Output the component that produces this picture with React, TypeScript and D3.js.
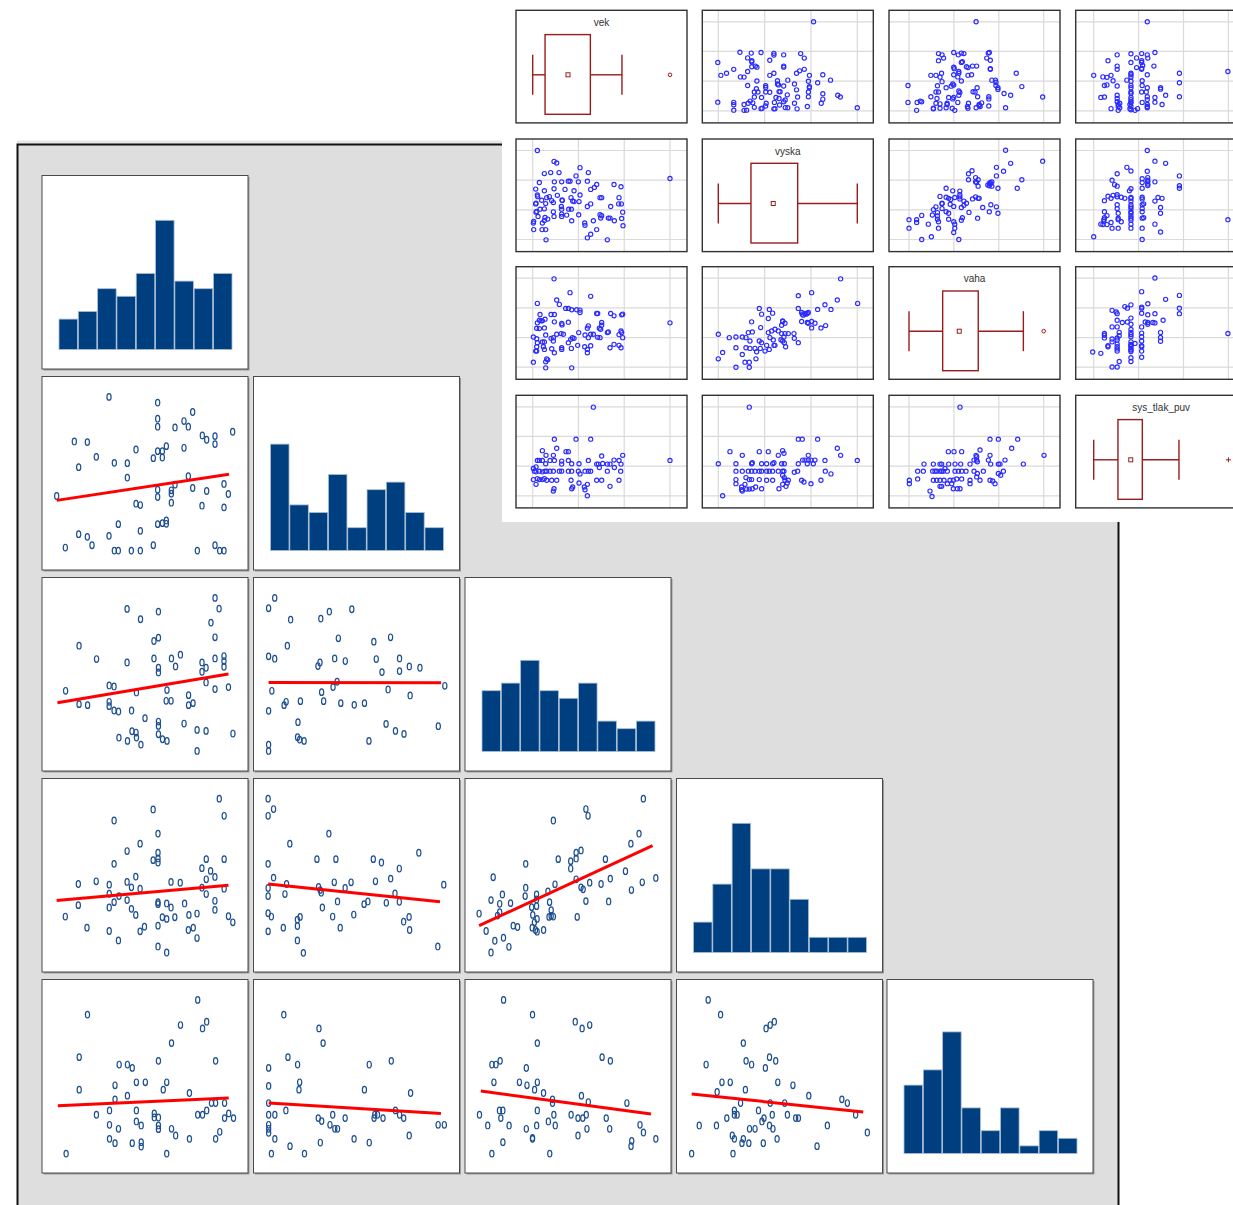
import React from "react";
import * as d3 from "d3";

const W = 1233;
const H = 1205;

// ================= lower-left matrix (5 variables) =================
// histogram counts on the diagonal
const hist1 = [4, 5, 8, 7, 10, 17, 9, 8, 10];
const hist2 = [14, 6, 5, 10, 3, 8, 9, 5, 3];
const hist3 = [8, 9, 12, 8, 7, 9, 4, 3, 4];
const hist4 = [4, 9, 17, 11, 11, 7, 2, 2, 2];
const hist5 = [9, 11, 16, 6, 3, 6, 1, 3, 2];
const histCounts = [hist1, hist2, hist3, hist4, hist5];

// scatter panels: values in each panel's own units, with the panel extent
type P = [number, number];
const p21: P[] = [[209,81],[355,98],[460,126],[355,146],[434,153],[355,170],[447,170],[407,172],[580,185],[489,196],[527,198],[502,209],[527,222],[105,214],[144,216],[290,238],[434,233],[381,228],[355,243],[369,243],[171,260],[342,264],[369,262],[225,278],[264,279],[118,291],[264,322],[447,318],[52,377],[355,358],[355,380],[396,360],[396,370],[407,343],[460,353],[502,362],[554,341],[567,371],[290,400],[303,404],[396,397],[488,406],[554,411],[237,461],[355,461],[369,458],[381,450],[381,460],[303,481],[118,491],[144,499],[158,524],[209,496],[78,531],[225,540],[237,540],[276,540],[303,540],[342,524],[474,540],[527,524],[541,540],[554,540]];
const p31: P[] = [[430,69],[440,101],[214,102],[291,110],[247,133],[420,143],[430,187],[291,188],[280,198],[96,212],[139,252],[214,262],[280,250],[323,250],[333,274],[345,239],[291,278],[291,292],[398,262],[408,278],[398,290],[430,250],[452,243],[452,258],[452,275],[408,322],[430,342],[463,336],[63,347],[170,331],[182,334],[237,352],[312,345],[96,387],[117,390],[170,380],[170,393],[182,406],[193,409],[225,406],[310,377],[322,377],[365,360],[365,390],[376,384],[258,429],[291,439],[291,452],[354,445],[386,464],[408,467],[474,475],[226,468],[236,472],[237,487],[215,497],[194,487],[248,508],[291,477],[301,492],[312,497],[386,527]];
const p32: P[] = [[575,69],[560,100],[614,134],[688,131],[709,110],[764,103],[606,212],[731,190],[818,200],[859,187],[560,244],[575,251],[686,262],[681,273],[722,250],[748,258],[824,252],[881,250],[838,291],[881,288],[905,274],[931,278],[728,320],[718,336],[992,332],[568,347],[690,351],[853,343],[907,361],[603,380],[598,390],[638,378],[695,378],[737,384],[770,389],[795,384],[560,407],[632,441],[631,486],[636,493],[647,497],[560,508],[560,527],[806,497],[848,446],[871,467],[892,476],[976,453]];
const p41: P[] = [[332,72],[341,123],[210,104],[138,137],[219,176],[186,206],[162,228],[219,233],[219,250],[210,255],[219,262],[138,266],[308,252],[341,252],[300,279],[316,287],[324,305],[308,312],[72,326],[105,318],[129,328],[162,320],[178,304],[170,336],[186,340],[243,320],[260,322],[129,355],[138,380],[147,362],[162,374],[72,389],[219,380],[219,386],[235,384],[243,396],[268,384],[300,337],[308,356],[341,340],[324,376],[324,403],[129,396],[170,400],[178,418],[48,423],[227,425],[235,430],[250,425],[276,418],[291,414],[349,422],[357,440],[219,450],[88,456],[129,466],[186,467],[194,453],[146,494],[275,463],[284,456],[291,487],[219,512],[235,530]];
const p42: P[] = [[422,72],[432,103],[422,123],[534,176],[462,206],[422,266],[512,252],[547,252],[616,252],[631,262],[700,233],[664,280],[432,307],[456,326],[422,338],[422,362],[453,356],[515,335],[518,344],[520,352],[544,321],[564,338],[575,321],[620,318],[648,310],[746,328],[550,378],[522,396],[606,378],[599,386],[640,382],[664,379],[656,354],[422,413],[428,423],[481,424],[476,432],[541,423],[580,417],[450,456],[476,451],[555,456],[422,467],[476,494],[487,531],[672,438],[682,424],[683,463],[735,512]];
const p43: P[] = [[1114,72],[1008,103],[1012,123],[948,137],[1106,176],[1091,206],[897,266],[957,252],[980,258],[980,280],[990,250],[990,233],[999,226],[1044,252],[1081,288],[837,306],[1137,308],[1112,321],[1053,310],[1036,326],[1015,322],[999,336],[1003,342],[1008,377],[1050,378],[1092,344],[990,312],[951,327],[897,337],[896,362],[938,348],[917,357],[917,372],[917,392],[941,380],[869,383],[854,357],[849,385],[849,410],[833,374],[811,414],[845,420],[874,450],[882,454],[908,395],[910,418],[918,430],[913,440],[944,404],[944,421],[940,424],[948,423],[909,456],[915,463],[930,463],[918,468],[992,424],[824,466],[856,486],[840,495],[866,513],[833,530]];
const p51: P[] = [[229,75],[69,119],[204,150],[236,160],[242,140],[191,204],[57,246],[115,268],[127,268],[134,278],[172,257],[255,257],[57,343],[109,330],[140,321],[153,321],[184,321],[179,343],[127,361],[217,353],[109,372],[249,383],[255,383],[268,383],[82,418],[101,405],[140,405],[166,414],[166,426],[172,426],[229,418],[236,418],[242,405],[274,414],[268,428],[281,428],[101,448],[114,460],[140,438],[147,450],[172,450],[172,461],[191,460],[197,480],[217,490],[101,490],[109,503],[134,503],[147,500],[147,513],[255,490],[261,469],[38,534],[184,534]];
const p52: P[] = [[354,119],[405,160],[411,204],[360,246],[332,278],[374,268],[478,268],[510,257],[332,332],[377,321],[376,343],[471,343],[538,353],[332,383],[357,405],[332,418],[341,418],[425,418],[404,428],[409,437],[443,428],[421,448],[428,460],[432,460],[486,418],[485,428],[490,418],[498,428],[516,405],[522,418],[528,428],[332,448],[332,460],[332,472],[341,490],[363,512],[384,534],[336,534],[407,501],[456,490],[478,501],[536,480],[578,448],[587,448]];
const p53: P[] = [[673,75],[715,119],[777,140],[787,160],[798,150],[722,204],[816,246],[828,257],[656,268],[662,268],[668,257],[706,278],[659,321],[696,321],[707,330],[718,343],[722,321],[731,353],[744,372],[744,383],[786,361],[796,380],[852,383],[638,418],[667,405],[672,405],[669,428],[650,450],[681,450],[722,405],[706,460],[715,487],[715,490],[721,450],[738,438],[748,450],[746,418],[771,418],[781,428],[788,428],[793,418],[794,460],[781,480],[672,500],[656,534],[740,534],[822,428],[827,460],[859,496],[858,512],[871,448],[876,471],[894,490]];
const p54: P[] = [[970,75],[988,119],[1054,160],[1060,150],[1066,140],[1021,204],[1059,246],[1068,257],[1025,257],[1033,268],[1053,278],[967,268],[990,321],[1002,321],[1071,321],[1093,330],[1116,361],[983,350],[1024,343],[1017,383],[1008,405],[1012,418],[1008,418],[1043,405],[1060,383],[1081,383],[1051,428],[1048,438],[1063,418],[1085,418],[1097,428],[1101,428],[1164,372],[1172,383],[1184,418],[997,428],[957,450],[982,450],[1030,460],[1038,460],[1059,450],[1064,460],[1005,480],[1008,490],[1021,490],[1029,503],[1019,503],[1050,503],[1070,490],[1128,512],[1143,450],[1201,471],[946,534],[1006,534]];

// fitted regression lines: [x1, y1, x2, y2] in panel units
const fit21 = [52, 390, 569, 312];
const fit31 = [43, 383, 463, 297];
const fit32 = [560, 322, 983, 323];
const fit41 = [32, 375, 349, 330];
const fit42 = [422, 326, 739, 379];
const fit43 = [811, 450, 1131, 212];
const fit51 = [26, 391, 274, 368];
const fit52 = [332, 383, 582, 414];
const fit53 = [640, 347, 887, 416];
const fit54 = [946, 356, 1195, 410];

// panel extents [x0, x1, y0, y1] (panel units at the cell edges)
const panels = [
  { r: 1, c: 0, pts: p21, fit: fit21, ext: [8, 626, 20, 598] },
  { r: 2, c: 0, pts: p31, fit: fit31, ext: [5, 511, 8, 587] },
  { r: 2, c: 1, pts: p32, fit: fit32, ext: [523, 1028, 8, 587] },
  { r: 3, c: 0, pts: p41, fit: fit41, ext: [5, 385, 12, 588] },
  { r: 3, c: 1, pts: p42, fit: fit42, ext: [395, 775, 12, 588] },
  { r: 3, c: 2, pts: p43, fit: fit43, ext: [785, 1165, 12, 588] },
  { r: 4, c: 0, pts: p51, fit: fit51, ext: [3, 302, 14, 592] },
  { r: 4, c: 1, pts: p52, fit: fit52, ext: [310, 609, 14, 592] },
  { r: 4, c: 2, pts: p53, fit: fit53, ext: [617, 916, 14, 592] },
  { r: 4, c: 3, pts: p54, fit: fit54, ext: [924, 1223, 14, 592] },
];

// ================= upper-right matrix (4 variables) =================
const varNames = ["vek", "vyska", "vaha", "sys_tlak_puv"];
// variable extents in reading units [min, max]
const extVek = [98, 510];
const extVyskaX = [655, 1072];
const extVahaX = [117, 521];
const extVyskaY = [720, 450];
const extVahaY = [318, 53];
const extSysY = [706, 442];

const vekVyska: P[] = [[112,450],[162,483],[170,488],[133,520],[152,517],[177,517],[240,502],[265,517],[228,527],[118,547],[107,567],[113,590],[112,585],[163,545],[185,545],[205,543],[210,543],[235,545],[262,543],[290,553],[283,562],[272,568],[342,553],[363,560],[133,572],[148,590],[162,566],[172,586],[195,568],[222,572],[240,585],[108,610],[125,601],[140,593],[155,602],[186,600],[187,602],[213,593],[218,603],[222,605],[237,605],[107,612],[137,611],[160,608],[300,593],[305,593],[357,593],[364,612],[356,612],[262,620],[272,612],[332,620],[108,637],[110,635],[120,628],[133,627],[160,636],[185,628],[184,620],[206,628],[214,628],[114,650],[135,653],[143,658],[162,650],[185,650],[200,646],[185,643],[215,663],[236,645],[101,665],[100,670],[127,670],[133,662],[254,670],[255,677],[280,663],[300,645],[302,655],[305,648],[325,655],[343,663],[330,655],[365,656],[368,637],[369,678],[101,690],[126,690],[137,690],[290,690],[272,704],[262,715],[138,721],[322,721],[510,535]];
const vekVaha: P[] = [[162,55],[210,96],[272,107],[112,128],[170,118],[178,131],[153,161],[163,161],[120,161],[197,143],[205,143],[215,147],[230,147],[240,148],[240,155],[290,158],[293,158],[332,158],[342,165],[365,162],[368,160],[112,186],[118,178],[123,180],[127,180],[135,175],[163,183],[185,188],[186,192],[205,184],[265,195],[262,202],[305,185],[305,193],[298,202],[302,205],[110,202],[118,203],[133,201],[100,228],[110,233],[112,245],[110,257],[107,270],[110,270],[127,243],[133,243],[137,222],[153,232],[160,230],[133,265],[130,257],[170,220],[183,218],[190,220],[160,240],[155,263],[163,275],[185,260],[185,265],[205,245],[214,262],[212,235],[217,230],[222,232],[236,215],[233,253],[255,222],[265,230],[272,220],[280,220],[254,257],[262,265],[262,275],[272,254],[293,229],[300,230],[322,215],[325,213],[357,221],[363,210],[365,215],[368,230],[330,260],[342,250],[357,253],[363,260],[100,303],[140,293],[143,296],[137,302],[137,320],[215,320],[510,186]];
const vyskaVaha: P[] = [[1022,55],[895,105],[935,96],[1012,118],[1073,128],[975,132],[953,146],[993,146],[778,143],[808,146],[785,160],[818,157],[895,143],[905,155],[907,160],[915,158],[922,158],[925,155],[910,163],[918,160],[905,182],[922,185],[925,187],[945,187],[935,182],[755,183],[805,173],[848,182],[855,187],[845,193],[848,180],[963,201],[977,194],[935,201],[655,220],[688,230],[708,228],[727,228],[738,230],[745,215],[750,240],[757,213],[738,260],[750,262],[765,262],[770,272],[781,262],[795,270],[808,265],[778,240],[785,245],[800,253],[822,253],[825,253],[782,200],[805,215],[815,210],[825,205],[835,210],[845,218],[855,218],[865,218],[882,218],[883,232],[895,245],[852,228],[843,236],[857,257],[853,245],[848,240],[810,230],[820,237],[655,293],[668,274],[708,260],[727,280],[735,303],[748,303],[768,293],[748,318],[708,318]];
const vekSys: P[] = [[280,443],[163,538],[228,538],[272,538],[127,572],[138,586],[170,565],[198,575],[205,575],[112,601],[118,601],[108,620],[127,601],[150,601],[160,586],[163,601],[185,612],[205,601],[215,611],[237,611],[265,601],[137,611],[185,603],[290,612],[295,612],[305,588],[298,622],[308,610],[322,612],[330,612],[342,600],[357,601],[363,612],[368,586],[343,622],[100,625],[103,633],[108,635],[118,633],[127,635],[135,633],[140,633],[150,633],[160,633],[178,633],[185,633],[205,633],[215,633],[235,633],[240,641],[255,633],[265,633],[272,633],[322,633],[362,633],[100,658],[112,655],[108,672],[118,658],[127,658],[133,655],[140,660],[155,660],[170,660],[213,660],[218,680],[215,685],[237,668],[262,672],[253,680],[255,688],[162,685],[160,692],[290,660],[305,660],[330,678],[357,660],[262,706],[510,601]];
const vyskaSys: P[] = [[748,443],[895,538],[907,538],[953,538],[690,575],[727,586],[778,575],[805,575],[835,586],[848,572],[852,580],[1012,565],[1022,586],[908,600],[915,600],[925,600],[933,600],[945,600],[925,586],[975,601],[1072,601],[655,611],[708,611],[755,611],[757,608],[785,611],[800,611],[818,611],[822,608],[845,611],[853,611],[895,611],[922,611],[940,611],[708,633],[727,633],[745,633],[755,633],[765,633],[778,633],[785,633],[800,633],[808,633],[818,633],[835,633],[848,633],[852,633],[883,636],[893,633],[976,633],[993,641],[708,658],[738,652],[748,658],[755,658],[778,658],[800,660],[818,660],[848,645],[853,652],[855,660],[865,660],[905,660],[912,665],[933,670],[963,660],[708,670],[735,672],[767,680],[757,685],[785,685],[837,685],[848,672],[858,678],[862,668],[725,688],[727,692],[740,686],[748,686],[725,680],[668,706]];
const vahaSys: P[] = [[270,443],[360,538],[385,538],[443,538],[425,565],[235,575],[252,575],[275,575],[330,570],[318,586],[320,590],[360,586],[162,612],[190,612],[210,612],[215,612],[236,612],[255,612],[272,612],[300,612],[312,600],[320,600],[322,605],[355,600],[362,612],[385,612],[390,612],[405,600],[460,612],[522,586],[143,633],[160,633],[188,633],[195,633],[200,633],[210,633],[215,633],[220,633],[225,625],[232,633],[255,633],[265,633],[275,633],[288,633],[312,633],[322,640],[340,633],[385,640],[400,633],[392,645],[118,660],[118,670],[143,656],[190,660],[200,660],[210,660],[222,660],[240,660],[250,660],[260,656],[275,656],[300,660],[300,670],[330,660],[360,660],[368,662],[375,670],[210,678],[215,678],[232,670],[245,670],[262,685],[270,685],[250,685],[320,650],[180,692],[186,708]];

// pairs (i<j): x = var i, y = var j
const pairs = [
  { i: 0, j: 1, pts: vekVyska, xe: extVek, ye: extVyskaY },
  { i: 0, j: 2, pts: vekVaha, xe: extVek, ye: extVahaY },
  { i: 1, j: 2, pts: vyskaVaha, xe: extVyskaX, ye: extVahaY },
  { i: 0, j: 3, pts: vekSys, xe: extVek, ye: extSysY },
  { i: 1, j: 3, pts: vyskaSys, xe: extVyskaX, ye: extSysY },
  { i: 2, j: 3, pts: vahaSys, xe: extVahaX, ye: extSysY },
];

// box-plot statistics as fractions of each variable's range
// [whiskerLow, q1, mean, q3, whiskerHigh, outlier(or -1)]
const boxVek = [0, 0.09, 0.257, 0.42, 0.65, 1];
const boxVyska = [0, 0.235, 0.395, 0.571, 1, -1];
const boxVaha = [0, 0.25, 0.373, 0.514, 0.849, 1];
const boxSys = [0, 0.18, 0.275, 0.361, 0.633, 1];
const boxStats = [boxVek, boxVyska, boxVaha, boxSys];
const outlierMark = ["circle", "none", "circle", "plus"];
const gridFractions = [0, 1 / 3, 2 / 3, 1];

// ================= layout =================
const llColX = [42, 253.5, 465, 676.5, 887];
const llRowY = [175.5, 376.5, 577.5, 778.5, 979.5];
const llW = 206;
const llH = 193.5;

const urColX = [516, 702.3, 889, 1075.7];
const urRowY = [10.3, 139, 266.7, 395.3];
const urW = 171;
const urH = 112.6;
const urXr = [[16.7, 154], [16, 155], [20, 154.7], [18, 152.7]];
const urYr = [100.5, 11.5];

const BAR = "#003f7f";
const PT = "#1d4f91";
const BLUE = "#2b2bff";
const BOX = "#9a1c1c";

function LowerCell({ x, y }: { x: number; y: number }) {
  return (
    <g>
      <rect x={x + 1.5} y={y + 1.5} width={llW} height={llH} fill="#9a9a9a" />
      <rect x={x} y={y} width={llW} height={llH} fill="#fff" stroke="#4a4a4a" strokeWidth={1} />
    </g>
  );
}

function Histogram({ idx }: { idx: number }) {
  const x0 = llColX[idx];
  const y0 = llRowY[idx];
  const data = histCounts[idx];
  const xs = d3.scaleBand<number>().domain(d3.range(data.length)).range([x0 + 17, x0 + 190]).paddingInner(0.04);
  const ys = d3.scaleLinear().domain([0, 20]).range([y0 + 174, y0 + 174 - 152]);
  return (
    <g>
      <LowerCell x={x0} y={y0} />
      {data.map((v, k) => (
        <rect key={k} x={xs(k)} y={ys(v)} width={xs.bandwidth()} height={ys(0) - ys(v)} fill={BAR} stroke="#a9bdd4" strokeWidth={0.8} />
      ))}
    </g>
  );
}

function Scatter({ p }: { p: typeof panels[number] }) {
  const x0 = llColX[p.c];
  const y0 = llRowY[p.r];
  const xs = d3.scaleLinear().domain([p.ext[0], p.ext[1]]).range([x0, x0 + llW]);
  const ys = d3.scaleLinear().domain([p.ext[2], p.ext[3]]).range([y0, y0 + llH]);
  const line = d3.line<P>().x((d) => xs(d[0])).y((d) => ys(d[1]));
  const f = p.fit;
  return (
    <g>
      <LowerCell x={x0} y={y0} />
      {p.pts.map((d, k) => (
        <ellipse key={k} cx={xs(d[0])} cy={ys(d[1])} rx={2.1} ry={3.3} fill="none" stroke={PT} strokeWidth={1.2} />
      ))}
      <path d={line([[f[0], f[1]], [f[2], f[3]]]) || ""} stroke="#ff0000" strokeWidth={3} fill="none" />
    </g>
  );
}

function UpperGrid({ r, c }: { r: number; c: number }) {
  const cx = urColX[c];
  const cy = urRowY[r];
  const gx = d3.scaleLinear().domain([0, 1]).range([cx + urXr[c][0], cx + urXr[c][1]]);
  const gy = d3.scaleLinear().domain([0, 1]).range([cy + urYr[0], cy + urYr[1]]);
  return (
    <g>
      {gridFractions.map((t, k) => (
        <line key={"v" + k} x1={gx(t)} x2={gx(t)} y1={cy} y2={cy + urH} stroke="#dadada" strokeWidth={1.2} />
      ))}
      {gridFractions.map((t, k) => (
        <line key={"h" + k} x1={cx} x2={cx + urW} y1={gy(t)} y2={gy(t)} stroke="#dadada" strokeWidth={1.2} />
      ))}
    </g>
  );
}

function UpperScatter({ r, c }: { r: number; c: number }) {
  const cx = urColX[c];
  const cy = urRowY[r];
  const lo = Math.min(r, c);
  const hi = Math.max(r, c);
  const pr = pairs.find((q) => q.i === lo && q.j === hi)!;
  const transposed = r < c; // x = var c = pair's second variable
  const xExt = transposed ? pr.ye : pr.xe;
  const yExt = transposed ? pr.xe : pr.ye;
  const xs = d3.scaleLinear().domain(xExt).range([cx + urXr[c][0], cx + urXr[c][1]]);
  const ys = d3.scaleLinear().domain(yExt).range([cy + urYr[0], cy + urYr[1]]);
  return (
    <g>
      <rect x={cx} y={cy} width={urW} height={urH} fill="#fff" />
      <UpperGrid r={r} c={c} />
      {pr.pts.map((d, k) => {
        const vx = transposed ? d[1] : d[0];
        const vy = transposed ? d[0] : d[1];
        return <circle key={k} cx={xs(vx)} cy={ys(vy)} r={2.1} fill="none" stroke={BLUE} strokeWidth={1.15} />;
      })}
      <rect x={cx} y={cy} width={urW} height={urH} fill="none" stroke="#333" strokeWidth={1.4} />
    </g>
  );
}

function UpperBox({ k }: { k: number }) {
  const cx = urColX[k];
  const cy = urRowY[k];
  const s = boxStats[k];
  const xs = d3.scaleLinear().domain([0, 1]).range([cx + urXr[k][0], cx + urXr[k][1]]);
  const mid = cy + 64.5;
  const bt = cy + 24.3;
  const bb = cy + 104;
  const capH = 20;
  return (
    <g>
      <rect x={cx} y={cy} width={urW} height={urH} fill="#fff" stroke="#333" strokeWidth={1.4} />
      <text x={cx + urW / 2} y={cy + 15.5} textAnchor="middle" fontFamily="Liberation Sans, Arial, sans-serif" fontSize={10} fill="#333">
        {varNames[k]}
      </text>
      <line x1={xs(s[0])} x2={xs(s[1])} y1={mid} y2={mid} stroke={BOX} strokeWidth={1.4} />
      <line x1={xs(s[3])} x2={xs(s[4])} y1={mid} y2={mid} stroke={BOX} strokeWidth={1.4} />
      <line x1={xs(s[0])} x2={xs(s[0])} y1={mid - capH} y2={mid + capH} stroke={BOX} strokeWidth={1.4} />
      <line x1={xs(s[4])} x2={xs(s[4])} y1={mid - capH} y2={mid + capH} stroke={BOX} strokeWidth={1.4} />
      <rect x={xs(s[1])} y={bt} width={xs(s[3]) - xs(s[1])} height={bb - bt} fill="none" stroke={BOX} strokeWidth={1.4} />
      <rect x={xs(s[2]) - 2} y={mid - 2} width={4} height={4} fill="none" stroke={BOX} strokeWidth={1} />
      {outlierMark[k] === "circle" && <circle cx={xs(s[5])} cy={mid} r={1.8} fill="none" stroke={BOX} strokeWidth={1} />}
      {outlierMark[k] === "plus" && (
        <g stroke={BOX} strokeWidth={1}>
          <line x1={xs(s[5]) - 2.5} x2={xs(s[5]) + 2.5} y1={mid} y2={mid} />
          <line x1={xs(s[5])} x2={xs(s[5])} y1={mid - 2.5} y2={mid + 2.5} />
        </g>
      )}
    </g>
  );
}

export default function App() {
  const idx4 = d3.range(4);
  return (
    <svg width={W} height={H} style={{ position: "absolute", left: 0, top: 0, background: "#fff" }}>
      <rect x={0} y={0} width={W} height={H} fill="#fff" />
      {/* grey window of the lower-left matrix */}
      <rect x={17} y={140.5} width={490} height={4} fill="#e6e6e6" />
      <rect x={17.5} y={144.5} width={1101} height={1080} fill="#dedede" stroke="#111" strokeWidth={2} />
      {d3.range(5).map((k) => (
        <Histogram key={"h" + k} idx={k} />
      ))}
      {panels.map((p, k) => (
        <Scatter key={"s" + k} p={p} />
      ))}
      {/* white window of the upper-right matrix */}
      <rect x={502} y={0} width={W - 502} height={522} fill="#fff" />
      {idx4.map((r) =>
        idx4.map((c) => (r === c ? <UpperBox key={`b${r}`} k={r} /> : <UpperScatter key={`u${r}${c}`} r={r} c={c} />))
      )}
    </svg>
  );
}
